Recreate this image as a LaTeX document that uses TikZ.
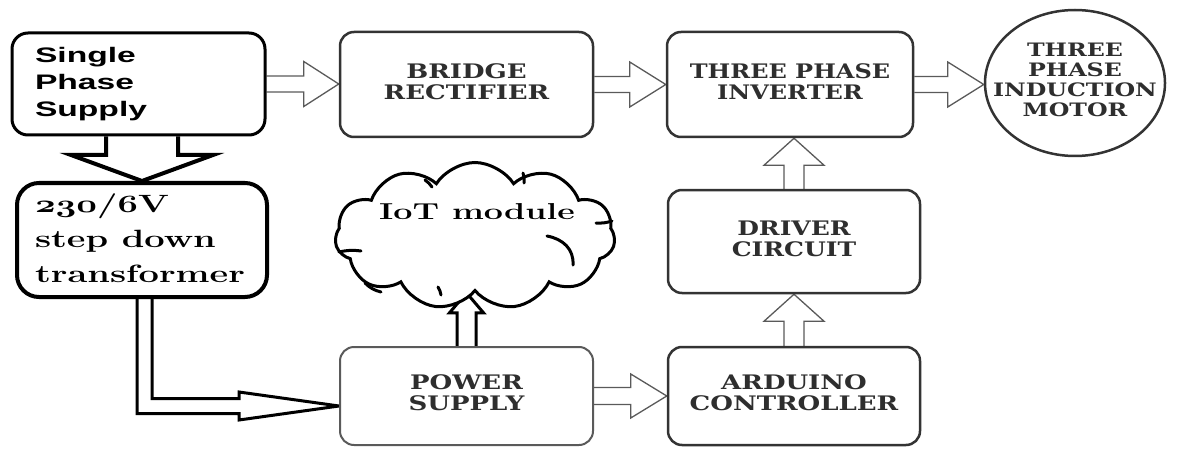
\documentclass[tikz,border=0pt]{standalone}
\usepackage{fontspec}
\usetikzlibrary{calc,shapes.geometric,shapes.symbols}
\newfontfamily\capsf{DejaVu Serif}
\newfontfamily\sansf{Liberation Sans}
\definecolor{ink}{HTML}{2E2E2E}
\definecolor{edge}{HTML}{333333}
\definecolor{aedge}{HTML}{5A5A5A}
\pgfdeclarelayer{bg}
\pgfdeclarelayer{paper}
\pgfsetlayers{paper,bg,main}
% horizontally widened multi-line label
\newcommand\lbl[3]{\scalebox{#1}[1]{\begin{tabular}{@{}#2@{}}#3\end{tabular}}}
% old-style figures taken from the bold math italic font
\newcommand\osf[1]{{\usefont{OML}{cmm}{b}{it}#1}}
% hollow block arrows: style, from, to, shaft half width, head half width, head length
\newcommand\rarrow[6]{\draw[#1] let \p1=(#2), \p2=(#3) in
  (\x1,\y1+#4pt) -- (\x2-#6pt,\y1+#4pt) -- (\x2-#6pt,\y1+#5pt) -- (\x2,\y1)
  -- (\x2-#6pt,\y1-#5pt) -- (\x2-#6pt,\y1-#4pt) -- (\x1,\y1-#4pt);}
\newcommand\uarrow[6]{\draw[#1] let \p1=(#2), \p2=(#3) in
  (\x1-#4pt,\y1) -- (\x1-#4pt,\y2-#6pt) -- (\x1-#5pt,\y2-#6pt) -- (\x1,\y2)
  -- (\x1+#5pt,\y2-#6pt) -- (\x1+#4pt,\y2-#6pt) -- (\x1+#4pt,\y1);}
\newcommand\darrow[6]{\draw[#1] let \p1=(#2), \p2=(#3) in
  (\x2-#4pt,\y1) -- (\x2-#4pt,\y2+#6pt) -- (\x2-#5pt,\y2+#6pt) -- (\x2,\y2)
  -- (\x2+#5pt,\y2+#6pt) -- (\x2+#4pt,\y2+#6pt) -- (\x2+#4pt,\y1);}
\begin{document}
\begin{tikzpicture}[x=1pt,y=-1pt,
  block/.style={draw=edge, line width=2.5pt, rounded corners=14pt, fill=white,
    inner sep=0pt, text=ink, font=\capsf\bfseries\fontsize{20}{21}\selectfont},
  hollow/.style={draw=aedge, line width=1.3pt, fill=white, line join=miter},
  heavy/.style={draw=black, line width=4pt, fill=white, line join=miter},
  feed/.style={draw=black, line width=3pt, fill=white, line join=miter},
  puff/.style={draw=black, line width=3pt, line cap=round},
]
\begin{pgfonlayer}{paper}
  \fill[white] (0,0) rectangle (1190,449);
\end{pgfonlayer}
\useasboundingbox (0,0) rectangle (1190,449);

% top row
\node[block, draw=black, line width=3pt, rounded corners=16pt,
  minimum width=253pt, minimum height=102pt, text=black,
  font=\sansf\bfseries\fontsize{21}{27}\selectfont] (supply) at (138.5,84)
  {\makebox[253pt][l]{\hspace{23pt}\lbl{1.6}{l}{Single\\Phase\\Supply}}};
\node[block, minimum width=253pt, minimum height=105pt] (bridge) at (466.5,84.5)
  {\lbl{1.3}{c}{BRIDGE\\RECTIFIER}};
\node[block, minimum width=246pt, minimum height=105pt] (inv) at (790,84.5)
  {\lbl{1.2}{c}{THREE PHASE\\INVERTER}};
\node[ellipse, draw=edge, line width=2.5pt, fill=white, inner sep=0pt,
  minimum width=180pt, minimum height=146pt, text=ink,
  font=\capsf\bfseries\fontsize{18.5}{20}\selectfont] (motor) at (1075,83)
  {\makebox[0pt]{\raisebox{-4pt}{\lbl{1.28}{c}{THREE\\PHASE\\INDUCTION\\MOTOR}}}};

% left column
\node[block, draw=black, line width=4pt, rounded corners=22pt,
  minimum width=250pt, minimum height=114pt, text=black,
  font=\rmfamily\bfseries\fontsize{25}{35}\selectfont] (trans) at (142,240)
  {\makebox[250pt][l]{\hspace{18pt}\lbl{1.45}{l}{\osf{230}/6V\\step down\\transformer}}};

% middle / right
\node[cloud, cloud puffs=11, cloud puff arc=115, draw=black, line width=3pt,
  fill=white, minimum width=280pt, minimum height=147pt, inner sep=0pt] (iot) at (475,236) {};
\begin{scope}[shift={(iot.center)}]
  % inner strokes where the puffs overlap
  \draw[puff] (-136,16) to[bend left=10] (-114,15);
  \draw[puff] (-110,47) to[bend right=15] (-94,56);
  \draw[puff] (-37,51) to[bend left=10] (-34,59);
  \draw[puff] (72,0) .. controls (88,3) and (99,13) .. (98,29);
  \draw[puff] (121,-13) to[bend right=10] (137,-15);
  \draw[puff] (-50,-56) to[bend left=10] (-43,-49);
  \draw[puff] (48,-63) to[bend left=10] (49,-53);
\end{scope}
\node[font=\rmfamily\bfseries\fontsize{23}{25}\selectfont, inner sep=0pt] (iottext) at (477,212)
  {\scalebox{1.48}[1]{IoT module}};
\node[block, minimum width=252pt, minimum height=103pt] (drv) at (794,241.5)
  {\lbl{1.25}{c}{DRIVER\\CIRCUIT}};
\node[block, draw=aedge, line width=2pt, minimum width=253pt, minimum height=98pt] (power) at (466.5,396)
  {\lbl{1.3}{c}{POWER\\SUPPLY}};
\node[block, minimum width=252pt, minimum height=98pt] (ard) at (794,396)
  {\lbl{1.3}{c}{ARDUINO\\CONTROLLER}};

\coordinate (feedtip) at ([yshift=-10pt]power.west);

\begin{pgfonlayer}{bg}
  \rarrow{hollow}{supply.east}{bridge.west}{8}{22.5}{35}
  \rarrow{hollow}{bridge.east}{inv.west}{8}{22.5}{36}
  \rarrow{hollow}{inv.east}{motor.west}{8}{22.5}{36}
  \rarrow{hollow}{power.east}{ard.west}{8.5}{22}{36}
  \uarrow{hollow}{drv.north}{inv.south}{10}{30}{27}
  \uarrow{hollow}{ard.north}{drv.south}{10}{30}{27}
  \darrow{heavy}{supply.south}{trans.north}{36}{71}{26}
  \uarrow{feed}{power.north}{iot.south}{9.5}{17}{20}
  % double-line feed from the transformer into the power supply
  \draw[feed] let \p1=(trans.south), \p2=(feedtip) in
    (\x1-5pt,\y1) -- (\x1-5pt,\y2-7.5pt) -- (\x2-100pt,\y2-7.5pt) -- (\x2-100pt,\y2-14pt)
    -- (\x2,\y2) -- (\x2-100pt,\y2+14pt) -- (\x2-100pt,\y2+7.5pt) -- (\x1+10pt,\y2+7.5pt)
    -- (\x1+10pt,\y1);
\end{pgfonlayer}
\end{tikzpicture}
\end{document}
